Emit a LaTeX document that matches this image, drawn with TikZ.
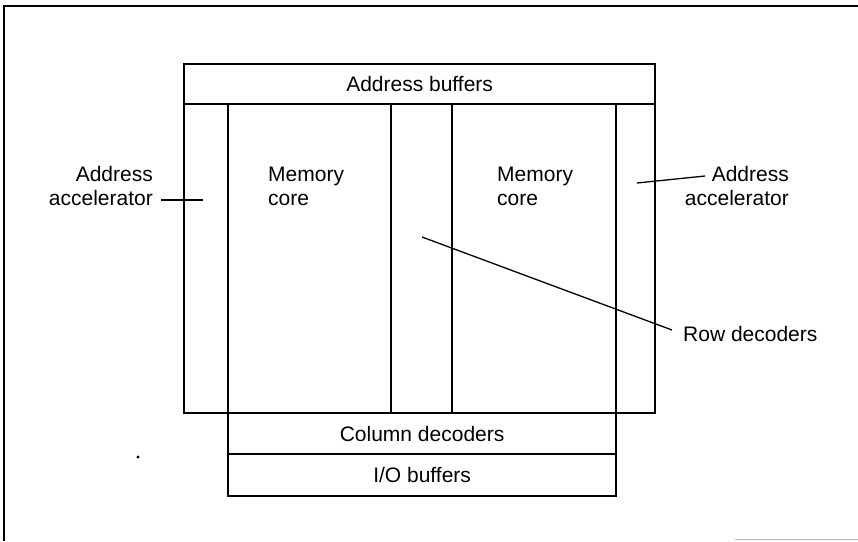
\documentclass[tikz,border=0pt]{standalone}
\usepackage{fontspec}
\setmainfont{Liberation Sans}
\begin{document}
\begin{tikzpicture}[x=1pt,y=-1pt,
  blk/.style={draw, line width=2.2pt, inner sep=0pt, anchor=north west, font=\fontsize{21}{24}\selectfont},
  lbl/.style={inner sep=3pt, font=\fontsize{21}{24}\selectfont},
  lead/.style={line width=1.3pt}]
\useasboundingbox (0,0) rectangle (858,541);
% outer frame
\draw[line width=2pt] (4,541) -- (4,6) -- (858,6);
\draw[gray!55, line width=1pt] (735,539) -- (858,539);
\fill (138,457) circle (1.6);
% blocks
\node[blk, minimum width=471pt, minimum height=40pt] (ab) at (183,63) {Address buffers};
\node[blk, minimum width=44pt, minimum height=309pt] (accL) at (183,103) {};
\node[blk, minimum width=163pt, minimum height=309pt] (coreL) at (227,103) {};
\node[blk, minimum width=61pt, minimum height=309pt] (rowd) at (390,103) {};
\node[blk, minimum width=164pt, minimum height=309pt] (coreR) at (451,103) {};
\node[blk, minimum width=39pt, minimum height=309pt] (accR) at (615,103) {};
\node[blk, minimum width=388pt, minimum height=41pt] (cold) at (227,412) {Column decoders};
\node[blk, minimum width=388pt, minimum height=42pt] (io) at (227,453) {I/O buffers};
% texts
\node[lbl, anchor=base west, align=left] (mcL) at (265,205) {Memory\\core};
\node[lbl, anchor=base west, align=left] (mcR) at (494,205) {Memory\\core};
\node[lbl, anchor=base east, align=right] (lblAL) at (156,205) {Address\\accelerator};
\node[lbl, anchor=base east, align=right] (lblAR) at (792,205) {Address\\accelerator};
\node[lbl, anchor=base west] (lblRD) at (680,341) {Row decoders};
% leaders
\coordinate (pAL) at (203,200);
\draw[lead] (lblAL.east |- pAL) ++(5,0) -- (pAL);
\coordinate (pAR) at (637,183);
\coordinate (qAR) at (705,176);
\draw[lead] (pAR) -- (qAR);
\coordinate (pRD) at (422,237);
\coordinate (qRD) at (672,330);
\draw[lead] (pRD) -- (qRD);
\end{tikzpicture}
\end{document}
